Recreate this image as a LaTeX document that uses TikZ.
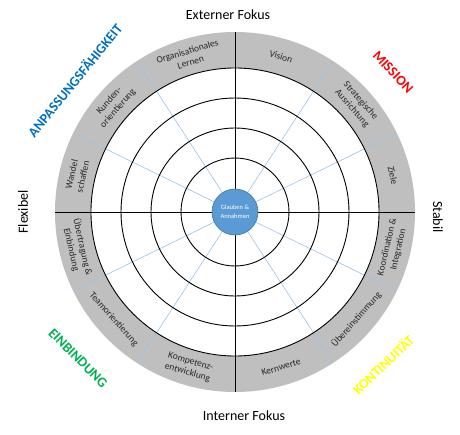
\documentclass[tikz,border=0pt]{standalone}
\usepackage{fontspec}
\setmainfont{Carlito}
\definecolor{ringgray}{RGB}{191,191,191}
\definecolor{spoke}{RGB}{157,195,230}
\definecolor{coreblue}{RGB}{91,155,213}
\definecolor{coreedge}{RGB}{65,113,156}
\definecolor{cblue}{RGB}{0,112,192}
\definecolor{cred}{RGB}{255,0,0}
\definecolor{cgreen}{RGB}{0,176,80}
\definecolor{cyellow}{RGB}{255,255,0}
\tikzset{
  seglabel/.style={font=\fontsize{9.5}{11.5}\selectfont, align=center, text=black!85, inner sep=0pt},
  axislabel/.style={font=\fontsize{14}{16}\selectfont, inner sep=0pt},
  culture/.style={font=\fontsize{14}{16}\selectfont\bfseries, inner sep=0pt},
  ringline/.style={draw=black, line width=0.9pt},
  spokeline/.style={draw=spoke, line width=0.6pt},
}
\begin{document}
\begin{tikzpicture}[x=1pt,y=1pt]
\useasboundingbox (-235,-222) rectangle (225,212);
\fill[white] (-235,-222) rectangle (225,212);
% rings
\fill[ringgray] (0,0) circle (180);
\fill[white] (0,0) circle (144);
% spokes
\coordinate (O) at (0,0);
\foreach \a in {26,57,123,154,206,237,303,334}{
  \draw[spokeline] (\a:23) -- (\a:179);
}
\foreach \r in {54,84,114,144}{
  \draw[ringline] (O) circle (\r);
}
% axes
\coordinate (T) at (90:180);
\coordinate (B) at (270:180);
\coordinate (L) at (180:180);
\coordinate (R) at (0:180);
\draw[line width=1pt] (T) -- (B);
\draw[line width=1pt] (L) -- (R);
% core
\node[circle, fill=coreblue, draw=coreedge, line width=0.6pt, minimum size=46pt, inner sep=0pt,
  text=white, align=center, font=\fontsize{6.5}{8.5}\selectfont] (core) at (O) {Glauben \&\\Annahmen};
% segment labels, top half
\node[seglabel, rotate=73.5-90] (s1) at (73.5:162) {Vision};
\node[seglabel, rotate=41.5-90] (s2) at (41.5:162) {Strategische\\Ausrichtung};
\node[seglabel, rotate=13-90] (s3) at (13:162) {Ziele};
\node[seglabel, rotate=106.5-90] (s4) at (106.5:162) {Organisationales\\Lernen};
\node[seglabel, rotate=138.5-90] (s5) at (138.5:162) {Kunden-\\orientierung};
\node[seglabel, rotate=167-90] (s6) at (167:162) {Wandel\\schaffen};
% bottom half
\node[seglabel, rotate=193+90] (s7) at (193:162) {Übertragung \&\\Einbindung};
\node[seglabel, rotate=221.5+90] (s8) at (221.5:162) {Teamorientierung};
\node[seglabel, rotate=253.5+90] (s9) at (253.5:162) {Kompetenz-\\entwicklung};
\node[seglabel, rotate=286.5+90] (s10) at (286.5:162) {Kernwerte};
\node[seglabel, rotate=318.5+90] (s11) at (318.5:162) {Übereinstimmung};
\node[seglabel, rotate=347+90] (s12) at (347:162) {Koordination \&\\Integration};
% axis labels
\node[axislabel] (ext) at (-7,197) {Externer Fokus};
\node[axislabel] (int) at (9,-204) {Interner Fokus};
\node[axislabel, rotate=90] (flex) at (-212,0) {Flexibel};
\node[axislabel, rotate=-90] (stab) at (203,-5) {Stabil};
% culture labels
\node[culture, text=cblue, rotate=51] (anp) at (-160.5,132) {ANPASSUNGSFÄHIGKEIT};
\node[culture, text=cred, rotate=-47] (mis) at (158,140) {MISSION};
\node[culture, text=cgreen, rotate=-45] (ein) at (-157,-146) {EINBINDUNG};
\node[culture, text=cyellow, rotate=44] (kon) at (148,-152.5) {KONTINUITÄT};
\end{tikzpicture}
\end{document}
